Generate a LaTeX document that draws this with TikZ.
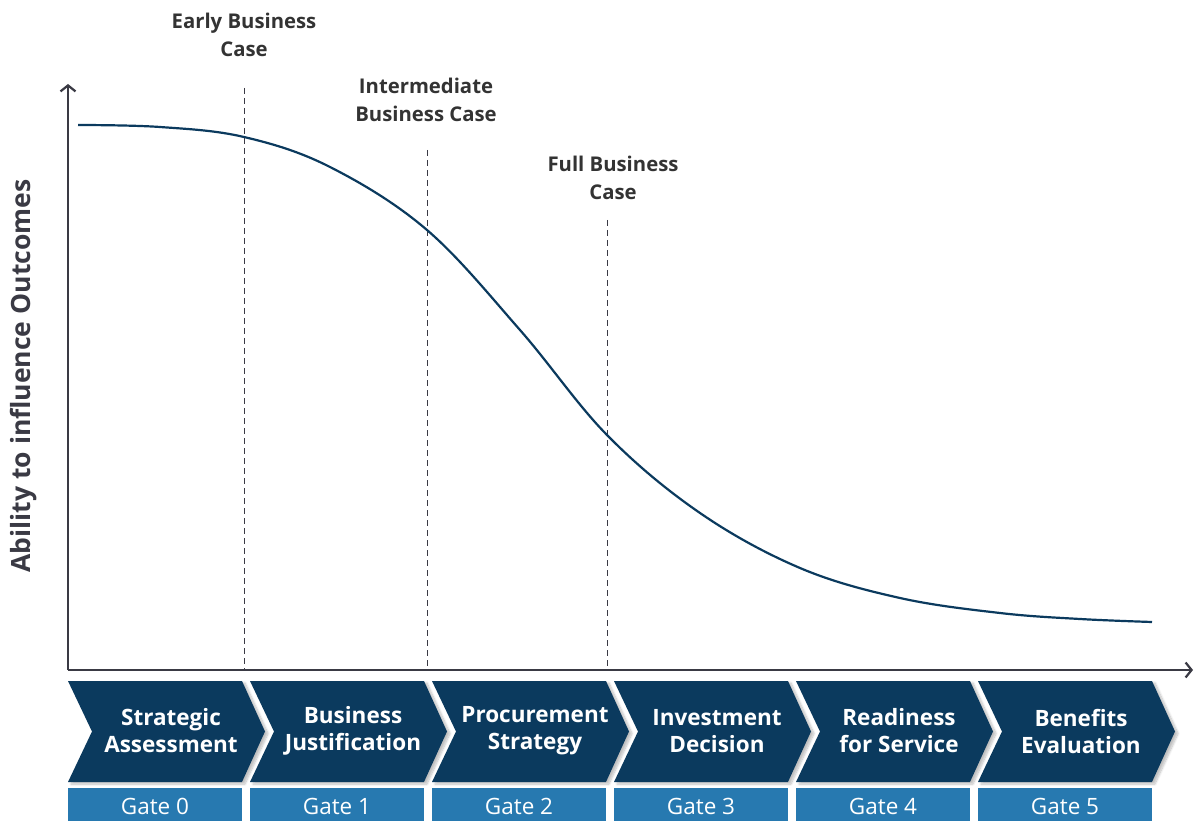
\documentclass[tikz,border=0pt]{standalone}
\usepackage{fontspec}
\setmainfont{Open Sans}
\usetikzlibrary{arrows.meta,shadows.blur}
\definecolor{navy}{HTML}{0B3A5E}
\definecolor{gateblue}{HTML}{2779B0}
\definecolor{axisgray}{HTML}{3A3A44}
\definecolor{txtgray}{HTML}{333333}
\begin{document}
\begin{tikzpicture}[x=1pt,y=-1pt,
  axis/.style={draw=axisgray,line width=2.2pt,-{Straight Barb[length=6pt,width=15pt,line width=2.2pt]}},
  gateline/.style={draw=axisgray,line width=0.9pt,dash pattern=on 6pt off 4pt},
  chev/.style={fill=navy,blur shadow={shadow blur steps=8,shadow xshift=3pt,shadow yshift=-2pt,shadow opacity=25}},
  chevtext/.style={text=white,font=\fontsize{22.5}{27}\selectfont\bfseries,align=center},
  gatebox/.style={fill=gateblue},
  gatetext/.style={text=white,font=\fontsize{22.5}{24}\selectfont},
  milestone/.style={text=txtgray,font=\fontsize{20.3}{28}\selectfont\bfseries,align=center},
  curve/.style={draw=navy,line width=2.2pt}]
\useasboundingbox (0,0) rectangle (1195,821);
% chevrons and gates
\foreach \i/\t/\g in {0/{Strategic\\Assessment}/0,1/{Business\\Justification}/1,2/{Procurement\\Strategy}/2,3/{Investment\\Decision}/3,4/{Readiness\\for Service}/4,5/{Benefits\\Evaluation}/5}{
  \pgfmathsetmacro{\xo}{68+182*\i}
  \path[chev] (\xo,681) -- (\xo+174,681) -- (\xo+197,731.5) -- (\xo+174,782) -- (\xo,782) -- (\xo+24,731.5) -- cycle;
  \node[chevtext] (c\i) at (\xo+103,731) {\t};
  \path[gatebox] (\xo,788) rectangle (\xo+174,830);
  \node[gatetext] (g\i) at (\xo+87,806) {Gate \g};
}
% axes
\coordinate (O) at (68,670);
\coordinate (ytop) at (68,84);
\coordinate (xend) at (1193,670);
\draw[axis] (O) -- (ytop);
\draw[axis] (O) -- (xend);
\node[rotate=90,text=axisgray,font=\fontsize{26.5}{30}\selectfont\bfseries] (ylab) at (24,376) {Ability to influence Outcomes};
% dashed gate lines
\coordinate (d1t) at (244,88); \coordinate (d1b) at (244,670);
\coordinate (d2t) at (427,150); \coordinate (d2b) at (427,670);
\coordinate (d3t) at (607,220); \coordinate (d3b) at (607,670);
\draw[gateline] (d1t) -- (d1b);
\draw[gateline] (d2t) -- (d2b);
\draw[gateline] (d3t) -- (d3b);
\node[milestone] (m1) at (244,35) {Early Business\\Case};
\node[milestone] (m2) at (426,100) {Intermediate\\Business Case};
\node[milestone] (m3) at (613,178) {Full Business\\Case};
% curve
\draw[curve] plot[smooth,tension=0.6] coordinates {(78,125) (160,127) (244,137) (330,167) (427,230) (520,330) (607,435) (700,513) (800,568) (900,598) (1000,613) (1080,619) (1152,622)};
\end{tikzpicture}
\end{document}
